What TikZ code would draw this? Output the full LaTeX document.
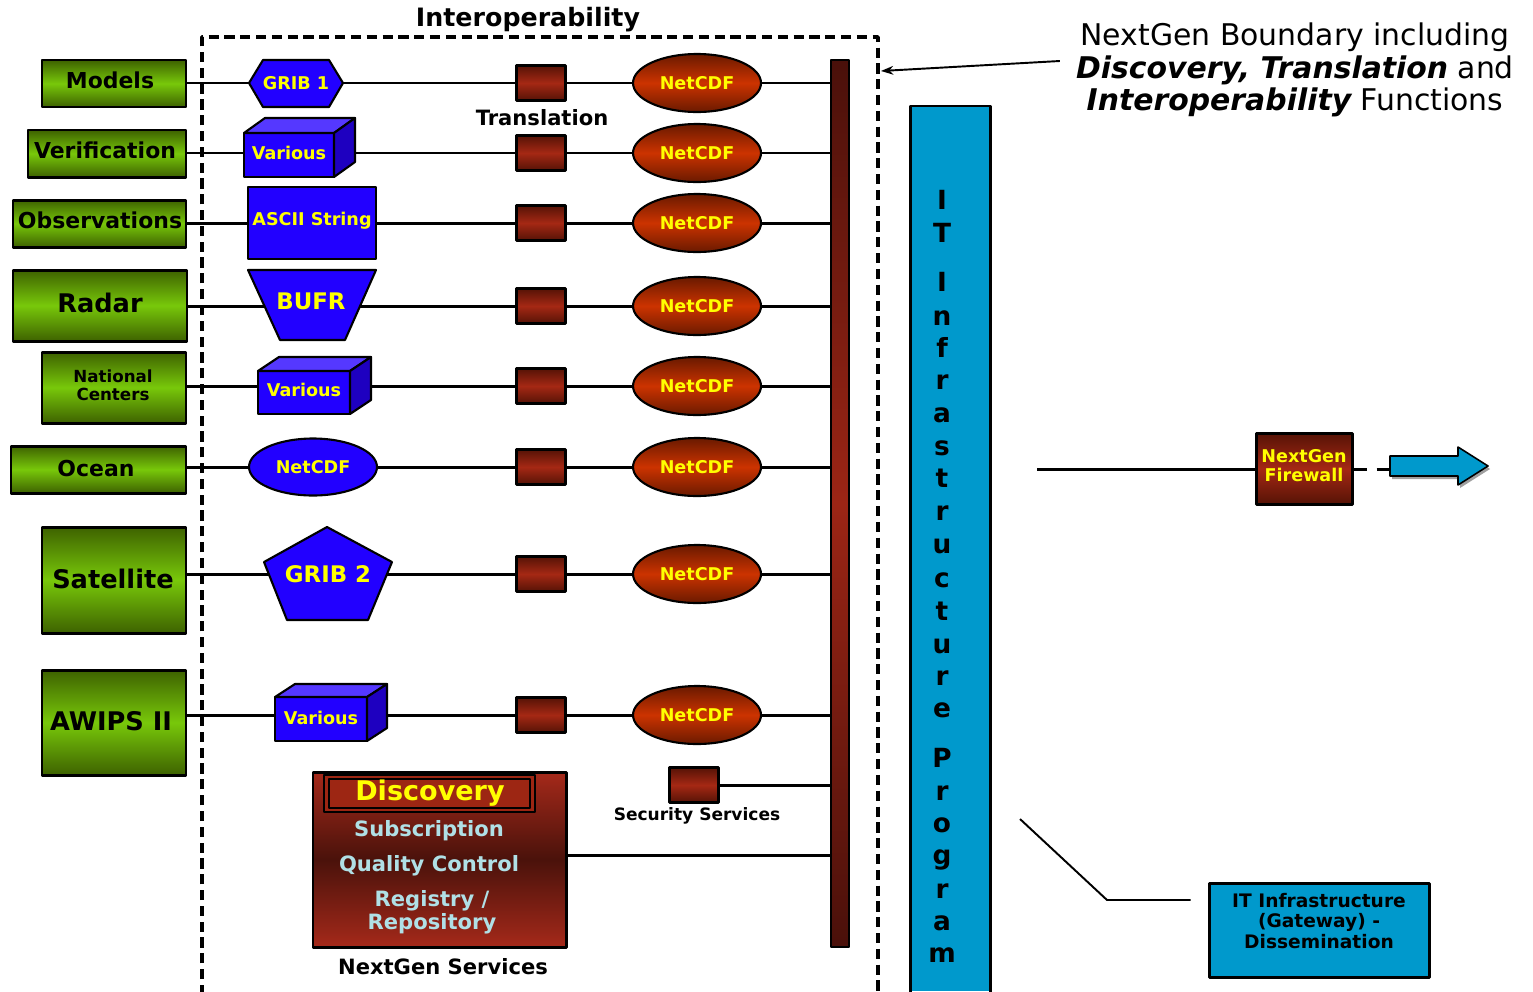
\documentclass[tikz,border=0pt]{standalone}
\usepackage{fontspec}
\setmainfont{DejaVu Sans}
\usetikzlibrary{fit,shapes.geometric,backgrounds,arrows.meta}

\definecolor{gdark}{HTML}{3E6200}
\definecolor{glight}{HTML}{78C80A}
\definecolor{fblue}{HTML}{2200FF}
\definecolor{ftop}{HTML}{5538FF}
\definecolor{fside}{HTML}{1E00C0}
\definecolor{rdark}{HTML}{561306}
\definecolor{rmid}{HTML}{A52814}
\definecolor{ncdark}{HTML}{6A1A00}
\definecolor{ncmid}{HTML}{CC3300}
\definecolor{dtop}{HTML}{A5291A}
\definecolor{dmid}{HTML}{4A120B}
\definecolor{busdark}{HTML}{4A100A}
\definecolor{busmid}{HTML}{9C2515}
\definecolor{itblue}{HTML}{0099CC}
\definecolor{pale}{HTML}{B0E0E6}
\definecolor{yel}{HTML}{FFFF00}

\newcommand\fsz[2]{\fontsize{#1}{#2}\selectfont}

\tikzset{
  conn/.style={line width=1.7pt, draw=black},
  frame/.style={inner sep=0pt},
  src/.style={frame, draw=black, line width=1.7pt, top color=gdark, bottom color=gdark,
    middle color=glight},
  srctext/.style={inner sep=0pt, text=black},
  fmtshape/.style={fill=fblue, draw=black, line width=1.2pt},
  fmtlabel/.style={text=yel, inner sep=1pt, font=\bfseries\fsz{10}{12}},
  hub/.style={inner sep=0pt, minimum size=0pt},
  trsq/.style={draw=black, line width=1.7pt, top color=rdark, bottom color=rdark,
    middle color=rmid, minimum width=0.98cm, minimum height=0.70cm, inner sep=0pt},
  ncell/.style={ellipse, draw=black, line width=1.2pt, top color=ncdark,
    bottom color=ncdark, middle color=ncmid, minimum width=2.56cm,
    minimum height=1.16cm, inner sep=0pt, text=yel, font=\bfseries\fsz{10}{12}},
  svctext/.style={text=pale, font=\bfseries\fsz{12}{13}},
  caption/.style={text=black, font=\bfseries\fsz{12}{14}},
  itbox/.style={frame, fill=itblue, draw=black, line width=1.7pt},
}

\begin{document}
\begin{tikzpicture}[x=0.02cm, y=-0.02cm, line join=round]
\useasboundingbox (0,0) rectangle (1533,991);

% ---------- interoperability boundary ----------
\draw[line width=2pt, dash pattern=on 5.8pt off 3.2pt]
  (202,995) -- (202,37) -- (878,37) -- (878,995);
\node[font=\bfseries\fsz{14.4}{16}] (interop) at (528,20) {Interoperability};

% ---------- data sources ----------
\node[src, fit={(42,60) (186,107)}] (models) {};
\node[src, fit={(28,130) (186,177)}] (verif) {};
\node[src, fit={(13,200) (186,247)}] (obs) {};
\node[src, fit={(13,270) (187,341)}] (radar) {};
\node[src, fit={(42,352) (186,423)}] (natl) {};
\node[src, fit={(11,446) (186,493)}] (ocean) {};
\node[src, fit={(42,527) (186,633)}] (sat) {};
\node[src, fit={(42,670) (186,775)}] (awips) {};

\node[srctext, font=\bfseries\fsz{12.5}{14}] (modelstxt) at (110,80) {Models};
\node[srctext, font=\bfseries\fsz{12.5}{14}] (veriftxt) at (105,150) {Verification};
\node[srctext, font=\bfseries\fsz{12.5}{14}] (obstxt) at (100,220) {Observations};
\node[srctext, font=\bfseries\fsz{14.6}{16}] (radartxt) at (100,303) {Radar};
\node[srctext, align=center, font=\bfseries\fsz{9.5}{10.4}] (natltxt) at (113,385) {National\\Centers};
\node[srctext, font=\bfseries\fsz{12.5}{14}] (oceantxt) at (96,468) {Ocean};
\node[srctext, font=\bfseries\fsz{14.6}{16}] (sattxt) at (113,579) {Satellite};
\node[srctext, font=\bfseries\fsz{14.6}{16}] (awipstxt) at (111,721) {AWIPS II};

% ---------- format shapes ----------
% GRIB 1 hexagon
\filldraw[fmtshape] (249,83) -- (263,60) -- (329,60) -- (343,83) -- (329,107) -- (263,107) -- cycle;
\node[fmtlabel] (grib1) at (296,83) {GRIB 1};

% boxes drawn as cubes
\foreach \nm/\xa/\ya/\xb/\yb/\dx/\dy/\ty in
  {various1/244/133/334/177/21/15/153,
   various2/258/371/350/414/21/14/390,
   various3/275/697/367/741/20/13/718} {
  \filldraw[fmtshape] (\xa,\ya) rectangle (\xb,\yb);
  \filldraw[fill=ftop, draw=black, line width=1.2pt]
    (\xa,\ya) -- (\xa+\dx,\ya-\dy) -- (\xb+\dx,\ya-\dy) -- (\xb,\ya) -- cycle;
  \filldraw[fill=fside, draw=black, line width=1.2pt]
    (\xb,\ya) -- (\xb+\dx,\ya-\dy) -- (\xb+\dx,\yb-\dy) -- (\xb,\yb) -- cycle;
  \node[fmtlabel] (\nm) at ({(\xa+\xb)/2},\ty) {Various};
}

% ASCII string block
\node[frame, fmtshape, fit={(248,187) (376,259)}] (ascii) {};
\node[fmtlabel] (asciitxt) at (312,221) {ASCII String};

% BUFR funnel
\filldraw[fmtshape] (248,270) -- (376,270) -- (345,340) -- (280,340) -- cycle;
\node[hub] (bufr) at (312,306) {};
\node[fmtlabel, font=\bfseries\fsz{13}{15}] (bufrtext) at (311,301) {BUFR};

% NetCDF ellipse
\node[ellipse, fmtshape, minimum width=2.56cm, minimum height=1.14cm, inner sep=0pt,
  text=yel, font=\bfseries\fsz{10}{12}] (ncblue) at (313,467) {NetCDF};

% GRIB 2 pentagon
\filldraw[fmtshape] (327,527) -- (392,562) -- (368,620) -- (287,620) -- (264,562) -- cycle;
\node[fmtlabel, font=\bfseries\fsz{13}{15}] (grib2) at (328,574) {GRIB 2};

% ---------- translation squares and NetCDF outputs ----------
\foreach \i/\y in {1/83,2/153,3/223,4/306,5/386,6/467,7/574,8/715} {
  \node[trsq] (tr\i) at (541,\y) {};
  \node[ncell] (nc\i) at (697,\y) {NetCDF};
}
\node[caption] (translabel) at (542,118) {Translation};

% ---------- service bus ----------
\node[frame, fit={(831,60) (849,947)}, draw=black, line width=1.5pt,
  top color=busdark, bottom color=busdark, middle color=busmid] (bus) {};

% ---------- NextGen services ----------
\node[frame, fit={(313,772) (566,947)}, draw=black, line width=1.7pt,
  top color=dtop, bottom color=dtop, middle color=dmid] (services) {};
\node[frame, fit={(324,775) (535,812)}, draw=black, line width=1.2pt,
  fill=rmid!95!black] (discframe) {};
\node[frame, fit={(329,779) (530,808)}, draw=black, line width=1.2pt] (discinner) {};
\node[text=yel, font=\bfseries\fsz{15.4}{17}] (discovery) at (430,793) {Discovery};
\node[svctext] (subscr) at (429,831) {Subscription};
\node[svctext] (qc) at (429,866) {Quality Control};
\node[svctext, align=center, font=\bfseries\fsz{12}{13}] (registry) at (432,912) {Registry /\\Repository};
\node[caption] (svclabel) at (443,967) {NextGen Services};

\node[trsq] (security) at (694,785) {};
\node[font=\bfseries\fsz{9.7}{11}] (seclabel) at (697,816) {Security Services};

\coordinate (svcrow) at (700,855);

% ---------- connectors ----------
\begin{scope}[on background layer]
  \draw[conn] (models.east |- tr1) -- (grib1) -- (tr1) -- (nc1) -- (bus.west |- nc1);
  \draw[conn] (verif.east |- tr2) -- (various1) -- (tr2) -- (nc2) -- (bus.west |- nc2);
  \draw[conn] (obs.east |- tr3) -- (ascii) -- (tr3) -- (nc3) -- (bus.west |- nc3);
  \draw[conn] (radar.east |- tr4) -- (bufr) -- (tr4) -- (nc4) -- (bus.west |- nc4);
  \draw[conn] (natl.east |- tr5) -- (various2 |- tr5) -- (tr5) -- (nc5) -- (bus.west |- nc5);
  \draw[conn] (ocean.east |- tr6) -- (ncblue) -- (tr6) -- (nc6) -- (bus.west |- nc6);
  \draw[conn] (sat.east |- tr7) -- (grib2) -- (tr7) -- (nc7) -- (bus.west |- nc7);
  \draw[conn] (awips.east |- tr8) -- (various3 |- tr8) -- (tr8) -- (nc8) -- (bus.west |- nc8);
  \draw[conn] (security.east) -- (bus.west |- security);
  \draw[conn] (services.east |- svcrow) -- (bus.west |- svcrow);
\end{scope}

% ---------- IT infrastructure program ----------
\fill[itblue] (910,106) rectangle (990,991);
\draw[line width=1.7pt] (910,993) -- (910,106) -- (990,106) -- (990,993);
\foreach \l/\b [count=\k] in {I/209,T/242,I/291,n/325,f/357,r/389,a/422,s/455,t/487,
    r/520,u/553,c/587,t/620,u/653,r/685,e/717,P/767,r/800,o/832,g/864,r/898,a/930,m/962}
  \node[anchor=base, inner sep=0pt, font=\bfseries\fsz{15}{18}] (itl\k) at (942,\b) {\l};

% ---------- boundary note ----------
\node[align=center, font=\fsz{17}{18.7}] (boundtxt) at (1295,70)
  {NextGen Boundary including\\
   {\bfseries\itshape Discovery, Translation} and\\
   {\bfseries\itshape Interoperability} Functions};
\coordinate (boundhit) at (881,71);
\draw[line width=1.1pt, -{Stealth[length=7pt,width=5pt]}]
  (boundtxt.west) ++(-10,-9) -- (boundhit);

% ---------- firewall and dissemination ----------
\node[frame, fit={(1256,433) (1352,504)}, draw=black, line width=1.7pt,
  top color=rdark, bottom color=rdark, middle color=rmid] (firewall) {};
\node[align=center, text=yel, font=\bfseries\fsz{10}{10.8}] (firewalltxt) at (1304,466)
  {NextGen\\Firewall};
\coordinate (fwin) at (1037,469);
\draw[conn] (fwin) -- (firewall.west |- fwin);

\fill[gray!75] (1392,458) -- (1460,458) -- (1460,449) -- (1490,469) -- (1460,488)
  -- (1460,479) -- (1392,479) -- cycle;
\filldraw[fill=itblue, draw=black, line width=0.9pt]
  (1390,456) -- (1458,456) -- (1458,447) -- (1488,466) -- (1458,485)
  -- (1458,476) -- (1390,476) -- cycle;
\node[frame, fit={(1390,447) (1488,485)}] (outarrow) {};
\draw[conn, dash pattern=on 7.4pt off 5.7pt] (firewall.east |- fwin) -- (outarrow.west |- fwin);

\node[itbox, fit={(1209,883) (1429,977)}] (gateway) {};
\node[align=center, font=\bfseries\fsz{10.6}{11.6}] (gatewaytxt) at (1319,921)
  {IT Infrastructure\\(Gateway) -\\Dissemination};
\coordinate (leadA) at (1020,819);
\coordinate (leadB) at (1107,900);
\draw[line width=1.1pt, shorten >=0.34cm] (leadA) -- (leadB) -- (gateway.west |- leadB);

\end{tikzpicture}
\end{document}
